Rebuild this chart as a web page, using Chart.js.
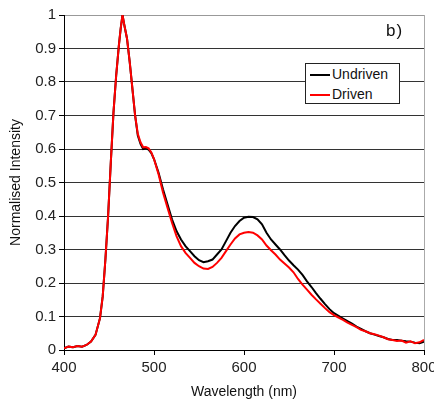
<!DOCTYPE html>
<html lang="en">
<head>
  <meta charset="UTF-8">
  <title>Normalised Intensity</title>
  <script src="https://cdn.jsdelivr.net/npm/chart.js@4.4.0/dist/chart.umd.min.js"></script>
  <style>
    body { margin: 0; background: #fff; font-family: "Liberation Sans", Arial, sans-serif; }
    #wrap { position: relative; width: 434px; height: 403px; }
    #tag { position: absolute; left: 386px; top: 21px; font-size: 17px; color: #111; letter-spacing: 1px; }
    #legend {
      position: absolute; left: 305px; top: 63px; width: 93px; height: 39px;
      background: #fff; border: 1px solid #222; font-size: 14px; color: #111;
    }
    #legend div { height: 19px; line-height: 19px; margin-top: 1px; }
    #legend span.ln { display: inline-block; width: 20px; height: 0; border-top: 2px solid; vertical-align: middle; margin: 0 2px 0 4px; }
  </style>
</head>
<body>
  <div id="wrap">
    <canvas id="myChart" width="434" height="403"></canvas>
    <div id="tag">b)</div>
    <div id="legend">
      <div><span class="ln" style="border-color:#000"></span>Undriven</div>
      <div><span class="ln" style="border-color:#ff0000"></span>Driven</div>
    </div>
  </div>

  <script>
    // wavelength (nm)
    let wavelengths = [400, 405, 410, 415, 420, 425, 430, 435, 440, 443, 446, 449, 452, 455, 458, 461, 463, 465, 467,
      470, 473, 476, 479, 482, 485, 488, 491, 494, 497, 500, 505, 510, 515, 520, 525, 530, 535, 540, 545, 550, 555,
      560, 565, 570, 575, 580, 585, 590, 595, 600, 605, 610, 615, 620, 625, 630, 635, 640, 645, 650, 655, 660, 665,
      670, 675, 680, 685, 690, 695, 700, 705, 710, 715, 720, 725, 730, 735, 740, 745, 750, 755, 760, 765, 770, 775,
      780, 785, 790, 795, 800];

    let undriven = [0.005, 0.01, 0.008, 0.012, 0.01, 0.015, 0.025, 0.045, 0.095, 0.16, 0.27, 0.40, 0.56, 0.71, 0.82, 0.91, 0.96, 1.00, 0.97,
      0.93, 0.86, 0.78, 0.70, 0.64, 0.615, 0.60, 0.602, 0.598, 0.588, 0.57, 0.53, 0.48, 0.435, 0.39, 0.355, 0.33, 0.31, 0.295, 0.28, 0.268, 0.262,
      0.265, 0.27, 0.285, 0.30, 0.325, 0.35, 0.37, 0.385, 0.395, 0.398, 0.397, 0.39, 0.375, 0.35, 0.33, 0.315, 0.30, 0.283, 0.267, 0.253, 0.24, 0.224,
      0.205, 0.188, 0.17, 0.153, 0.137, 0.122, 0.11, 0.102, 0.094, 0.086, 0.079, 0.07, 0.063, 0.056, 0.05, 0.046, 0.042, 0.038, 0.033, 0.03, 0.03, 0.028,
      0.026, 0.025, 0.022, 0.02, 0.025];

    let driven = [0.005, 0.01, 0.008, 0.012, 0.01, 0.015, 0.025, 0.045, 0.095, 0.16, 0.27, 0.40, 0.56, 0.71, 0.82, 0.91, 0.96, 1.00, 0.97,
      0.93, 0.86, 0.78, 0.70, 0.645, 0.62, 0.605, 0.606, 0.602, 0.59, 0.57, 0.525, 0.47, 0.425, 0.38, 0.34, 0.31, 0.29, 0.275, 0.26, 0.25, 0.243,
      0.242, 0.248, 0.26, 0.275, 0.295, 0.315, 0.333, 0.345, 0.35, 0.352, 0.35, 0.342, 0.33, 0.312, 0.298, 0.285, 0.27, 0.258, 0.246, 0.232, 0.212, 0.195,
      0.18, 0.165, 0.151, 0.138, 0.125, 0.113, 0.104, 0.097, 0.09, 0.082, 0.075, 0.068, 0.06, 0.056, 0.05, 0.047, 0.043, 0.038, 0.032, 0.03, 0.027, 0.028,
      0.022, 0.026, 0.02, 0.023, 0.03];

    let xTicks = [400, 500, 600, 700, 800];
    let yTicks = [0, 0.1, 0.2, 0.3, 0.4, 0.5, 0.6, 0.7, 0.8, 0.9, 1];

    function pares(ys) {
      return wavelengths.map(function (w, i) { return { x: w, y: ys[i] }; });
    }

    Chart.defaults.font.family = '"Liberation Sans", Arial, sans-serif';
    Chart.defaults.color = '#111';

    new Chart("myChart", {
      type: "line",
      data: {
        datasets: [{
          label: 'Undriven',
          data: pares(undriven),
          borderColor: '#000',
          borderWidth: 2,
          pointRadius: 0,
          order: 2
        }, {
          label: 'Driven',
          data: pares(driven),
          borderColor: '#ff0000',
          borderWidth: 2,
          pointRadius: 0,
          order: 1
        }]
      },
      options: {
        responsive: false,
        animation: false,
        layout: { padding: { top: 15, right: 0, left: 0, bottom: 0 } },
        plugins: { legend: { display: false }, tooltip: { enabled: false } },
        scales: {
          x: {
            type: 'linear',
            min: 400,
            max: 800,
            afterBuildTicks: function (s) { s.ticks = xTicks.map(function (v) { return { value: v }; }); },
            afterFit: function (s) { s.height = 53; s.paddingRight = 10; },
            ticks: { font: { size: 15 }, color: '#222', padding: 4, maxRotation: 0 },
            grid: {
              drawOnChartArea: true,
              color: function (c) { return c.tick && c.tick.value === 800 ? '#aaa' : 'rgba(0,0,0,0)'; },
              tickColor: '#000',
              tickLength: 5
            },
            border: { color: '#000', width: 1 },
            title: { display: true, text: 'Wavelength (nm)', font: { size: 14 }, color: '#111', padding: { top: 0, bottom: 2 } }
          },
          y: {
            min: 0,
            max: 1,
            afterBuildTicks: function (s) { s.ticks = yTicks.map(function (v) { return { value: v }; }); },
            afterFit: function (s) { s.width = 64; },
            ticks: {
              font: { size: 15 }, color: '#222', padding: 3,
              callback: function (v) { return String(Math.round(v * 10) / 10); }
            },
            grid: {
              color: function (c) { return c.tick && c.tick.value === 1 ? '#999' : '#333'; },
              tickColor: '#000',
              tickLength: 5
            },
            border: { color: '#000', width: 1 },
            title: { display: true, text: 'Normalised Intensity', font: { size: 14 }, color: '#111', padding: { top: 8, bottom: 0 } }
          }
        }
      }
    });
  </script>
</body>
</html>
